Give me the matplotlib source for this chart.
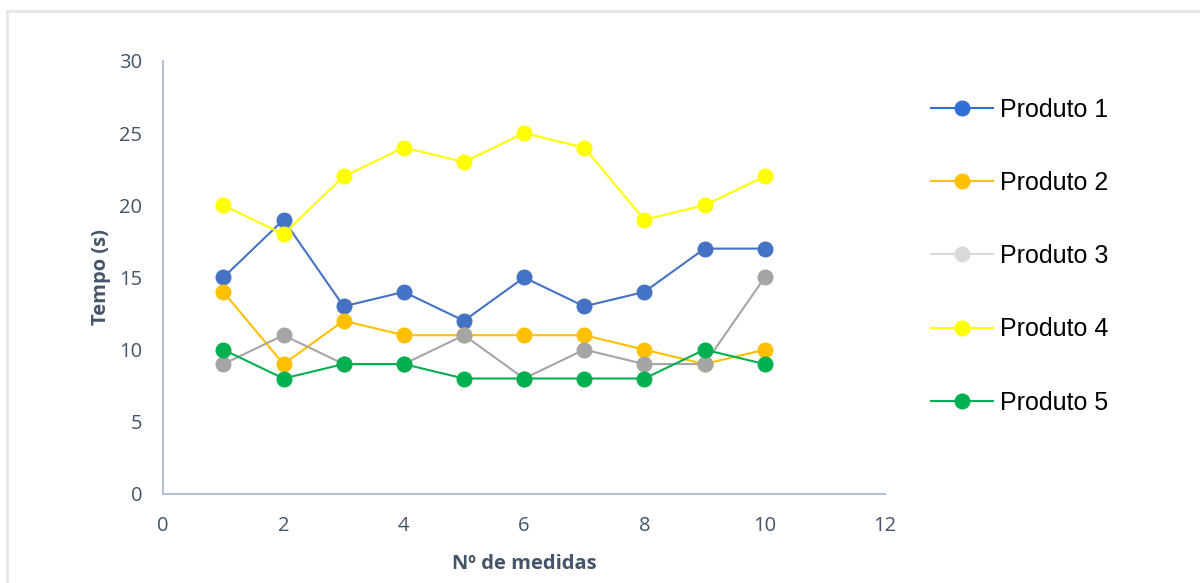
import matplotlib
matplotlib.use("Agg")
import matplotlib.pyplot as plt
from matplotlib.lines import Line2D

# dados
medidas = [1, 2, 3, 4, 5, 6, 7, 8, 9, 10]
produto_1 = [15, 19, 13, 14, 12, 15, 13, 14, 17, 17]
produto_2 = [14, 9, 12, 11, 11, 11, 11, 10, 9, 10]
produto_3 = [9, 11, 9, 9, 11, 8, 10, 9, 9, 15]
produto_4 = [20, 18, 22, 24, 23, 25, 24, 19, 20, 22]
produto_5 = [10, 8, 9, 9, 8, 8, 8, 8, 10, 9]
nomes = ["Produto 1", "Produto 2", "Produto 3", "Produto 4", "Produto 5"]
cores = ["#4472C4", "#FFC000", "#A5A5A5", "#FFFF00", "#00B050"]
cores_leg = ["#2F6FD6", "#FFC000", "#D9D9D9", "#FFFF00", "#00B050"]

txt = "#44546A"
eixo = "#B4C0D4"

fig = plt.figure(figsize=(12, 5.83), dpi=100)
ax = fig.add_axes([0.136, 0.1527, 0.6015, 0.7427])

series = [produto_1, produto_2, produto_3, produto_4, produto_5]
for i, ys in enumerate(series):
    ax.plot(medidas, ys, color=cores[i], lw=1.5, marker="o", ms=10.5,
            zorder=2 + i)

ax.set_xlim(0, 12)
ax.set_ylim(0, 30)
ax.set_xticks(range(0, 13, 2))
ax.set_yticks(range(0, 31, 5))
for s in ["top", "right"]:
    ax.spines[s].set_visible(False)
for s in ["left", "bottom"]:
    ax.spines[s].set_color(eixo)
    ax.spines[s].set_linewidth(1.5)
ax.tick_params(length=0, labelcolor=txt, labelsize=14.5)
ax.tick_params(axis="y", pad=15)
ax.tick_params(axis="x", pad=16)
for lb in ax.get_xticklabels() + ax.get_yticklabels():
    lb.set_family("Open Sans")

ax.set_xlabel("Nº de medidas", fontsize=14.5, fontweight="bold", color=txt,
              family="Open Sans", labelpad=13)
ax.set_ylabel("Tempo (s)", fontsize=14.5, fontweight="bold", color=txt,
              family="Open Sans", labelpad=6)

# legenda
handles = [Line2D([], [], color=c, lw=1.5, marker="o", ms=10.5) for c in cores_leg]
fig.legend(handles, nomes, loc="upper left", bbox_to_anchor=(0.757, 0.871),
           frameon=False, prop={"family": "Liberation Sans", "size": 18},
           labelspacing=1.97, handlelength=2.5, handletextpad=0.28)

# moldura
fig.add_artist(Line2D([0.006, 1.0], [1 - 11 / 583, 1 - 11 / 583],
                      color="#E3E6EA", lw=2, transform=fig.transFigure))
fig.add_artist(Line2D([0.006, 0.006], [1 - 11 / 583, 0.0],
                      color="#E3E6EA", lw=2, transform=fig.transFigure))

fig.savefig("out.png", dpi=100)
